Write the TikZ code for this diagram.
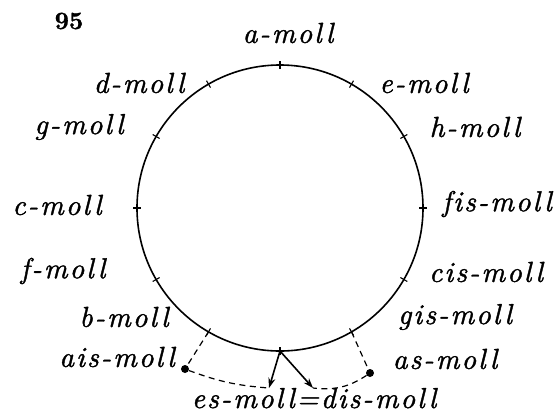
\documentclass[tikz,border=0pt]{standalone}
\usepackage{fontspec}
\usepackage{tikz}
\usetikzlibrary{arrows.meta,positioning,calc}
\newfontfamily\mollfont{lmroman10-italic.otf}[LetterSpace=7,Ligatures=NoCommon,FakeBold=1.3]
\newfontfamily\numfont{lmroman10-bold.otf}[FakeBold=1]

\begin{document}
\begin{tikzpicture}[
    x=1bp,y=1bp,
    >={Stealth[length=10bp,width=7bp]},
    key/.style ={font=\mollfont\fontsize{29}{32}\selectfont,inner sep=0pt},
    ring/.style={line width=1.6bp},
    tick/.style={line width=1.1bp},
    link/.style={line width=1.2bp,dash pattern=on 6bp off 4.5bp},
    arr/.style ={->,line width=1.6bp},
    pin/.style ={circle,fill,inner sep=0pt,minimum size=8bp}
  ]
  \useasboundingbox (-280,-205) rectangle (279,208);
  %% The circle of minor keys
  \def\R{143}
  \draw[ring] (0,0) circle (\R);
  \foreach \name/\ang in {a/90,e/60,h/30,fis/0,cis/-30,gis/-60,es/-90,b/-120,f/-150,c/180,g/150,d/120}{
    \coordinate (p-\name) at (\ang:\R);
    \draw[tick] ({\ang}:{\R-4}) -- ({\ang}:{\R+4});
  }
  \node[font=\numfont\fontsize{25}{28}\selectfont] (fig) at (-211,187) {95};
  %% Key names round the circle
  \node[key] (a)   at (8,175)    {a-moll};
  \node[key] (e)   at (144,125)  {e-moll};
  \node[key] (h)   at (195,81)   {h-moll};
  \node[key] (fis) at (217,4)    {fis-moll};
  \node[key] (cis) at (206,-64)  {cis-moll};
  \node[key] (gis) at (175,-109) {gis-moll};
  \node[key] (as)  at (165,-151) {as-moll};
  \node[key,anchor=base] (es) at (34,-200) {es-moll=dis-moll};
  \node[key] (ais) at (-163,-149) {ais-moll};
  \node[key] (b)   at (-156,-109) {b-moll};
  \node[key] (f)   at (-217,-63) {f-moll};
  \node[key] (c)   at (-223,3)   {c-moll};
  \node[key] (g)   at (-201,81)  {g-moll};
  \node[key] (d)   at (-141,125) {d-moll};
  %% Enharmonic detours at the bottom
  \node[pin] (ais-pt) at (-95,-161) {};
  \node[pin] (as-pt)  at (90,-165)  {};
  \coordinate (tip-es)  at (-11,-180);
  \coordinate (tip-dis) at (33,-180);
  \draw[link] (p-b) -- (ais-pt);
  \draw[link] (ais-pt) to[bend right=8] (tip-es);
  \draw[link] (p-gis) -- (as-pt);
  \draw[link] (as-pt) to[bend left=20] (tip-dis);
  \draw[arr] (p-es) -- (tip-es);
  \draw[arr] (p-es) -- (tip-dis);
\end{tikzpicture}
\end{document}
